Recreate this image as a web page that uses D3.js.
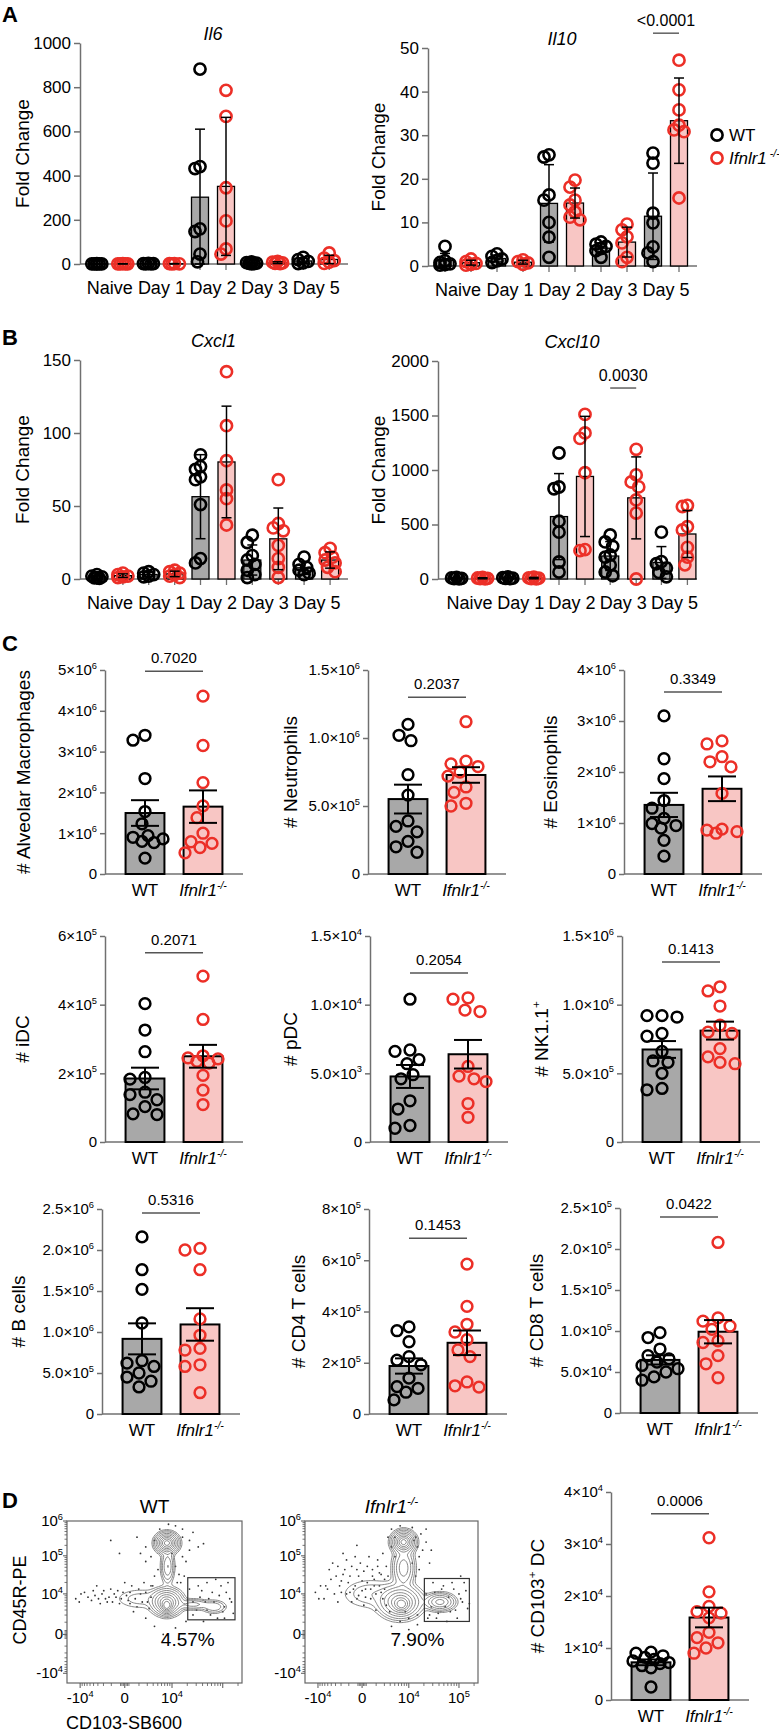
<!DOCTYPE html>
<html>
<head>
<meta charset="utf-8">
<script src="https://cdn.jsdelivr.net/npm/d3@7"></script>
<style>
  body { margin: 0; background: #fff; }
  svg { display: block; font-family: "Liberation Sans", Arial, Helvetica, sans-serif; }
</style>
</head>
<body>
<svg id="fig" width="779" height="1732"></svg>
<script>
// ---- data ----
const days = ["Naive", "Day 1", "Day 2", "Day 3", "Day 5"];
const groups = ["WT", "KO"];

// fold change per animal, one array per day (A, B)
const il6WT = [[2, 1, 0.5, 0.5, 0.3, 0.2], [3, 2, 1.5, 1, 0.5], [882, 441, 432, 159, 147, 45, 10], [10, 6, 4, 3, 2, 1], [30, 20, 12, 5, 2]];
const il6KO = [[1.5, 1, 0.8, 0.5, 0.3], [2, 1.5, 1, 0.5], [786, 668, 345, 195, 68, 45], [12, 8, 5, 3, 2], [50, 27, 15, 8, 3]];
const il10WT = [[4.5, 1.2, 0.8, 0.5, 0.3, 0.2], [2.8, 2.2, 1.6, 1.2, 0.8], [25.5, 25, 16.3, 15.1, 10, 6.6, 2], [5.5, 5, 4.5, 4, 3.5, 2], [25.9, 23.6, 12.1, 9.9, 4.4, 3, 1]];
const il10KO = [[1.6, 1.0, 0.6, 0.4, 0.2], [1.4, 1.0, 0.7, 0.4], [19.7, 18.1, 15.1, 14, 12.4, 11.2, 10.6], [9.6, 8.3, 6.7, 5.3, 2, 1], [47.2, 40.4, 35.8, 32.3, 31.2, 30.8, 15.6]];
const cxcl1WT = [[3, 2, 1.5, 1, 0.8, 0.5], [5, 4, 3, 2, 1.5], [85, 77, 75, 70, 68, 51, 14, 11], [30, 25, 16, 13, 10, 6, 3, 1], [15, 10, 8, 6, 4, 3]];
const cxcl1KO = [[4, 3, 2, 1.5, 1], [6, 5, 4, 3, 2, 1], [142, 105, 81, 61, 55, 37], [68, 38, 35, 33, 23, 14, 8, 1], [21, 18, 15, 13, 11, 8, 5]];
const cxcl10WT = [[15, 10, 6, 4, 2], [20, 12, 8, 5, 3], [1156, 844, 828, 530, 430, 156, 64], [404, 340, 300, 220, 200, 128, 64, 30], [430, 160, 140, 100, 60, 20]];
const cxcl10KO = [[14, 9, 6, 3, 2], [18, 10, 7, 4, 2], [1510, 1340, 1290, 975, 270, 260], [1190, 955, 890, 845, 725, 605, 0], [675, 665, 480, 450, 290, 200, 130]];

// cell counts per mouse (C, D)
const alvMacWT = [3.4e6, 3.28e6, 2.34e6, 1.53e6, 1.23e6, 0.94e6, 0.9e6, 0.86e6, 0.8e6, 0.77e6, 0.39e6];
const alvMacKO = [4.36e6, 3.15e6, 2.24e6, 1.67e6, 1.38e6, 1.0e6, 0.79e6, 0.75e6, 0.65e6, 0.52e6];
const neutWT = [1.1e6, 1.02e6, 0.98e6, 0.73e6, 0.58e6, 0.39e6, 0.35e6, 0.31e6, 0.24e6, 0.2e6, 0.16e6];
const neutKO = [1.12e6, 0.83e6, 0.81e6, 0.79e6, 0.75e6, 0.72e6, 0.64e6, 0.6e6, 0.52e6, 0.5e6];
const eosWT = [3.1e6, 2.26e6, 1.87e6, 1.44e6, 1.29e6, 1.09e6, 0.99e6, 0.95e6, 0.9e6, 0.66e6, 0.35e6];
const eosKO = [2.61e6, 2.55e6, 2.3e6, 2.2e6, 2.1e6, 1.58e6, 0.88e6, 0.86e6, 0.83e6, 0.8e6];
const idcWT = [4.03e5, 3.26e5, 2.63e5, 1.88e5, 1.83e5, 1.45e5, 1.38e5, 1.23e5, 1.03e5, 0.82e5, 0.8e5];
const idcKO = [4.83e5, 3.57e5, 2.51e5, 2.45e5, 2.42e5, 2.35e5, 2.3e5, 1.94e5, 1.51e5, 1.09e5];
const pdcWT = [10.4e3, 6.7e3, 6.6e3, 6.0e3, 5.7e3, 4.9e3, 4.6e3, 3.0e3, 2.4e3, 1.2e3, 1.0e3];
const pdcKO = [10.5e3, 10.4e3, 9.6e3, 9.5e3, 5.5e3, 4.6e3, 4.8e3, 4.4e3, 2.8e3, 1.8e3];
const nkWT = [9.2e5, 9.2e5, 9.1e5, 7.9e5, 7.7e5, 6.6e5, 5.9e5, 5.8e5, 5.0e5, 3.9e5, 3.8e5];
const nkKO = [11.3e5, 11.0e5, 9.9e5, 8.5e5, 8.0e5, 7.9e5, 6.8e5, 6.2e5, 5.8e5, 5.7e5];
const bWT = [2.16e6, 1.76e6, 1.52e6, 1.11e6, 0.65e6, 0.62e6, 0.58e6, 0.5e6, 0.45e6, 0.4e6, 0.33e6];
const bKO = [2.02e6, 2.0e6, 1.76e6, 1.16e6, 0.96e6, 0.8e6, 0.78e6, 0.6e6, 0.58e6, 0.26e6];
const cd4WT = [3.4e5, 3.25e5, 2.82e5, 2.24e5, 2.1e5, 1.92e5, 1.4e5, 1.07e5, 1.0e5, 0.85e5, 0.55e5];
const cd4KO = [5.85e5, 4.2e5, 3.5e5, 3.2e5, 2.9e5, 2.5e5, 2.24e5, 1.25e5, 1.1e5, 1.05e5];
const cd8WT = [9.8e4, 9.2e4, 7.8e4, 7.0e4, 6.6e4, 6.2e4, 5.8e4, 5.4e4, 5.0e4, 4.4e4, 4.0e4];
const cd8KO = [20.8e4, 11.6e4, 11.2e4, 10.6e4, 10.2e4, 8.8e4, 8.6e4, 7.0e4, 6.0e4, 4.3e4];
const cd103WT = [0.92e4, 0.9e4, 0.85e4, 0.82e4, 0.78e4, 0.75e4, 0.72e4, 0.7e4, 0.66e4, 0.62e4, 0.25e4];
const cd103KO = [3.12e4, 2.08e4, 1.8e4, 1.7e4, 1.67e4, 1.58e4, 1.3e4, 1.2e4, 1.1e4, 1.0e4, 0.9e4];

// flow plots: contour blobs [x, y, sdX, sdY, weight] and outlier events, 0-1 display scale
const wtBlobs = [[0.571, 0.864, 0.029, 0.028, 1.0], [0.575, 0.72, 0.018, 0.05, 0.2], [0.57, 0.5, 0.04, 0.036, 0.7],
  [0.57, 0.47, 0.018, 0.022, 0.55], [0.72, 0.485, 0.05, 0.016, 0.14], [0.84, 0.47, 0.035, 0.02, 0.1], [0.42, 0.52, 0.08, 0.035, 0.04]];
const koBlobs = [[0.57, 0.87, 0.03, 0.03, 1.0], [0.57, 0.71, 0.03, 0.06, 0.28], [0.55, 0.5, 0.055, 0.045, 0.7],
  [0.56, 0.48, 0.025, 0.025, 0.45], [0.78, 0.5, 0.04, 0.025, 0.4], [0.38, 0.55, 0.09, 0.05, 0.05]];
const wtDots = [[0.08, 0.55], [0.12, 0.53], [0.15, 0.57], [0.18, 0.52], [0.2, 0.55], [0.23, 0.5], [0.25, 0.58], [0.28, 0.53],
  [0.3, 0.49], [0.32, 0.56], [0.35, 0.51], [0.37, 0.6], [0.4, 0.47], [0.42, 0.55], [0.44, 0.62], [0.46, 0.5], [0.38, 0.44],
  [0.33, 0.62], [0.5, 0.88], [0.66, 0.9], [0.7, 0.82], [0.48, 0.78], [0.68, 0.75], [0.53, 0.95], [0.62, 0.97], [0.72, 0.93],
  [0.45, 0.84], [0.4, 0.9], [0.3, 0.8], [0.25, 0.88], [0.78, 0.86], [0.72, 0.42], [0.75, 0.6], [0.8, 0.45], [0.83, 0.56],
  [0.86, 0.4], [0.88, 0.6], [0.9, 0.47], [0.93, 0.52], [0.95, 0.43], [0.78, 0.38], [0.92, 0.62], [0.85, 0.64], [0.7, 0.58],
  [0.5, 0.35], [0.62, 0.34], [0.55, 0.3], [0.68, 0.38], [0.45, 0.4], [0.65, 0.62], [0.48, 0.6], [0.81, 0.52],
  [0.05, 0.52], [0.07, 0.5], [0.1, 0.56], [0.14, 0.51], [0.16, 0.54], [0.19, 0.49], [0.21, 0.57], [0.22, 0.52], [0.26, 0.5],
  [0.27, 0.55], [0.29, 0.57], [0.31, 0.52], [0.34, 0.54], [0.36, 0.49], [0.36, 0.56], [0.39, 0.52], [0.41, 0.58], [0.43, 0.5],
  [0.45, 0.56], [0.47, 0.46], [0.48, 0.53], [0.49, 0.6], [0.24, 0.53], [0.17, 0.6], [0.62, 0.72], [0.64, 0.67], [0.66, 0.78],
  [0.63, 0.62], [0.67, 0.66], [0.6, 0.8], [0.52, 0.7], [0.5, 0.66], [0.72, 0.5], [0.74, 0.45], [0.76, 0.53], [0.79, 0.5],
  [0.82, 0.42], [0.84, 0.5], [0.87, 0.54], [0.89, 0.44], [0.91, 0.56], [0.94, 0.5], [0.77, 0.57], [0.8, 0.62], [0.9, 0.4],
  [0.58, 0.98], [0.66, 0.95], [0.7, 0.88], [0.75, 0.84], [0.45, 0.75], [0.42, 0.8]];
const koDots = [[0.06, 0.56], [0.09, 0.6], [0.11, 0.52], [0.13, 0.58], [0.15, 0.64], [0.17, 0.55], [0.19, 0.5], [0.2, 0.6],
  [0.22, 0.67], [0.24, 0.55], [0.25, 0.62], [0.27, 0.5], [0.28, 0.58], [0.3, 0.7], [0.31, 0.54], [0.33, 0.63], [0.34, 0.48],
  [0.35, 0.58], [0.36, 0.72], [0.38, 0.52], [0.39, 0.66], [0.4, 0.6], [0.41, 0.45], [0.42, 0.76], [0.43, 0.68], [0.44, 0.56],
  [0.45, 0.8], [0.46, 0.64], [0.47, 0.72], [0.48, 0.9], [0.5, 0.95], [0.52, 0.78], [0.64, 0.9], [0.68, 0.82], [0.7, 0.95],
  [0.72, 0.74], [0.66, 0.7], [0.3, 0.85], [0.22, 0.8], [0.74, 0.62], [0.72, 0.42], [0.76, 0.4], [0.8, 0.6], [0.84, 0.44],
  [0.86, 0.58], [0.88, 0.4], [0.9, 0.52], [0.92, 0.62], [0.94, 0.46], [0.82, 0.38], [0.9, 0.66], [0.5, 0.35], [0.6, 0.33],
  [0.55, 0.38], [0.65, 0.36],
  [0.14, 0.7], [0.16, 0.74], [0.18, 0.66], [0.19, 0.72], [0.21, 0.63], [0.23, 0.7], [0.24, 0.76], [0.26, 0.66], [0.27, 0.72],
  [0.29, 0.6], [0.29, 0.78], [0.31, 0.66], [0.32, 0.74], [0.33, 0.57], [0.34, 0.69], [0.36, 0.62], [0.37, 0.78], [0.38, 0.58],
  [0.39, 0.7], [0.4, 0.64], [0.41, 0.55], [0.42, 0.72], [0.43, 0.6], [0.44, 0.67], [0.45, 0.52], [0.46, 0.58], [0.47, 0.48],
  [0.48, 0.66], [0.49, 0.44], [0.26, 0.56], [0.21, 0.56], [0.12, 0.6], [0.08, 0.52], [0.35, 0.53], [0.3, 0.52],
  [0.63, 0.88], [0.65, 0.84], [0.67, 0.92], [0.7, 0.87], [0.73, 0.82], [0.66, 0.78], [0.62, 0.96], [0.55, 0.97], [0.52, 0.9],
  [0.5, 0.84], [0.62, 0.74], [0.64, 0.66], [0.7, 0.55], [0.73, 0.47], [0.75, 0.56], [0.77, 0.43], [0.79, 0.58], [0.81, 0.47],
  [0.83, 0.53], [0.85, 0.62], [0.87, 0.45], [0.89, 0.55], [0.91, 0.5], [0.93, 0.57], [0.95, 0.49], [0.71, 0.4], [0.65, 0.42],
  [0.6, 0.4], [0.58, 0.44]];
const wtGate = [0.69, 0.96, 0.39, 0.65];
const koGate = [0.69, 0.95, 0.38, 0.645];
const flowTicksX = [0.075, 0.33, 0.6, 0.89];
const flowTickLabelsX = ["-10^4", "0", "10^4", "10^5"];
const flowTicksY = [0.06, 0.3, 0.55, 0.785, 1.0];
const flowTickLabelsY = ["-10^4", "0", "10^4", "10^5", "10^6"];
const flowLevels = [0.012, 0.025, 0.05, 0.1, 0.18, 0.3, 0.45, 0.62, 0.8];

// ---- drawing ----
const RED = "#ec2f27", GREY = "#a8a8a8", PINK = "#f8c6c4", AXIS = "#707070";
const svg = d3.select("#fig");
svg.append("rect").attr("width", 779).attr("height", 1732).attr("fill", "#fff");

// text with superscripts: parts = [{t, sup, it}]
function rich(text, parts, size) {
  let shift = 0;
  parts.forEach(p => {
    const ts = text.append("tspan").text(p.t);
    const target = p.sup ? -size * 0.42 : 0;
    if (target !== shift) { ts.attr("dy", target - shift); shift = target; }
    if (p.sup) ts.attr("font-size", size * 0.62);
    if (p.it) ts.attr("font-style", "italic");
  });
}
const parseSup = s => s.split("^").map((t, i) => ({ t, sup: i > 0 }));
const koParts = [{ t: "Ifnlr1", it: true }, { t: "-/-", sup: true, it: true }];

function sciLabel(v, dec) {
  if (v === 0) return "0";
  const e = Math.floor(Math.log10(v) + 1e-9);
  return (v / Math.pow(10, e)).toFixed(dec) + "×10^" + e;
}

function styleAxis(sel) {
  sel.attr("font-family", null).attr("font-size", null);
  sel.select(".domain").attr("stroke", AXIS).attr("stroke-width", 1.5);
  sel.selectAll(".tick line").attr("stroke", AXIS).attr("stroke-width", 1.5);
  sel.selectAll(".tick text").attr("fill", "#000");
}

// spread points sideways so circles do not pile up
function dodge(ys, minDist, step, maxOff) {
  const placed = [];
  const out = new Array(ys.length);
  d3.range(ys.length).sort((a, b) => ys[a] - ys[b]).forEach(i => {
    let best = 0, bestCost = Infinity;
    for (let k = 0; Math.ceil(k / 2) * step <= maxOff; k++) {
      const off = k === 0 ? 0 : (k % 2 ? -1 : 1) * Math.ceil(k / 2) * step;
      let cost = 0;
      placed.forEach(p => {
        const d = Math.hypot(p[0] - off, p[1] - ys[i]);
        if (d < minDist) cost = Math.max(cost, minDist - d);
      });
      if (cost === 0) { best = off; bestCost = 0; break; }
      if (cost < bestCost) { bestCost = cost; best = off; }
    }
    placed.push([best, ys[i]]);
    out[i] = best;
  });
  return out;
}

function panelLetter(t, y) {
  svg.append("text").attr("x", 2).attr("y", y).attr("font-size", 22).attr("font-weight", "bold").text(t);
}

function timeCourse(cfg) {
  const g = svg.append("g");
  const x = d3.scaleBand().domain(days).range(cfg.band);
  const xo = d3.scalePoint().domain(groups).range([-13, 13]);
  const y = d3.scaleLinear().domain([0, cfg.max]).range([cfg.y0, cfg.yTop]);
  const cx = (d, gt) => x(d) + x.bandwidth() / 2 + xo(gt);

  g.append("g").attr("transform", `translate(${cfg.axisX},0)`)
    .call(d3.axisLeft(y).tickValues(cfg.ticks).tickSize(6).tickSizeOuter(0).tickPadding(3).tickFormat(d3.format("d")))
    .call(styleAxis)
    .selectAll(".tick text").attr("font-size", 17);
  g.append("line").attr("x1", cfg.axisX).attr("x2", cfg.xEnd).attr("y1", cfg.y0).attr("y2", cfg.y0)
    .attr("stroke", AXIS).attr("stroke-width", 1.5);
  days.forEach(d => groups.forEach(gt => {
    g.append("line").attr("x1", cx(d, gt)).attr("x2", cx(d, gt)).attr("y1", cfg.y0).attr("y2", cfg.y0 + 6)
      .attr("stroke", AXIS).attr("stroke-width", 1.3);
  }));
  g.selectAll("text.day").data(days).join("text").attr("class", "day")
    .attr("x", d => x(d) + x.bandwidth() / 2).attr("y", cfg.y0 + 30)
    .attr("text-anchor", "middle").attr("font-size", 18).text(d => d);

  g.append("text").attr("transform", `translate(${cfg.labelX},${(cfg.y0 + cfg.yTop) / 2}) rotate(-90)`)
    .attr("text-anchor", "middle").attr("dy", "0.35em").attr("font-size", 19).text("Fold Change");
  g.append("text").attr("x", (cfg.band[0] + cfg.band[1]) / 2).attr("y", cfg.titleY)
    .attr("text-anchor", "middle").attr("font-size", 18).attr("font-style", "italic").text(cfg.title);

  const sets = [["WT", cfg.wt], ["KO", cfg.ko]];
  sets.forEach(([gt, data]) => data.forEach((vals, i) => {
    const m = d3.mean(vals);
    const bx = cx(days[i], gt);
    g.append("rect").attr("x", bx - 8.5).attr("width", 17).attr("y", y(m)).attr("height", cfg.y0 - y(m))
      .attr("fill", gt === "WT" ? GREY : PINK).attr("stroke", "#000").attr("stroke-width", 1.3);
  }));
  sets.forEach(([gt, data]) => data.forEach((vals, i) => {
    const bx = cx(days[i], gt);
    const ys = vals.map(v => y(v));
    const offs = dodge(ys, 8, 2.5, 6);
    g.selectAll(null).data(vals).join("circle")
      .attr("cx", (v, k) => bx + offs[k]).attr("cy", v => y(v)).attr("r", 5.6)
      .attr("fill", "none").attr("stroke", gt === "WT" ? "#000" : RED).attr("stroke-width", 2.6);
  }));
  sets.forEach(([gt, data]) => data.forEach((vals, i) => {
    const m = d3.mean(vals), sd = d3.deviation(vals);
    const bx = cx(days[i], gt);
    const lo = y(Math.max(0, m - sd)), hi = y(m + sd);
    g.append("line").attr("x1", bx).attr("x2", bx).attr("y1", lo).attr("y2", hi).attr("stroke", "#000").attr("stroke-width", 1.5);
    [lo, hi].forEach(yy => g.append("line").attr("x1", bx - 5).attr("x2", bx + 5).attr("y1", yy).attr("y2", yy)
      .attr("stroke", "#000").attr("stroke-width", 1.5));
  }));
  if (cfg.p) {
    const py = y(cfg.p.at);
    const x1 = cx(cfg.p.day, "WT"), x2 = cx(cfg.p.day, "KO");
    g.append("line").attr("x1", x1).attr("x2", x2).attr("y1", py).attr("y2", py).attr("stroke", "#555").attr("stroke-width", 1.4);
    g.append("text").attr("x", (x1 + x2) / 2).attr("y", py - 7).attr("text-anchor", "middle").attr("font-size", 16).text(cfg.p.text);
  }
}

function barPair(cfg) {
  const g = svg.append("g");
  const max = d3.max(cfg.ticks);
  const y = d3.scaleLinear().domain([0, max]).range([cfg.y0, cfg.yTop]);
  const x = d3.scaleBand().domain(groups).range([cfg.axisX + 11, cfg.axisX + 127]).paddingInner(0.33).paddingOuter(0.165);

  const ax = g.append("g").attr("transform", `translate(${cfg.axisX},0)`)
    .call(d3.axisLeft(y).tickValues(cfg.ticks).tickSize(5).tickSizeOuter(0).tickPadding(3))
    .call(styleAxis);
  ax.selectAll(".tick text").attr("font-size", 15).each(function (d) {
    const t = d3.select(this).text(null);
    rich(t, parseSup(sciLabel(d, cfg.dec)), 15);
  });
  g.append("line").attr("x1", cfg.axisX).attr("x2", cfg.axisX + 138).attr("y1", cfg.y0).attr("y2", cfg.y0)
    .attr("stroke", AXIS).attr("stroke-width", 1.5);

  const lab = g.append("text").attr("transform", `translate(${cfg.labelX},${(cfg.y0 + cfg.yTop) / 2}) rotate(-90)`)
    .attr("text-anchor", "middle").attr("dy", "0.35em").attr("font-size", 19);
  rich(lab, cfg.label, 19);

  const xl = g.append("g").attr("font-size", 17);
  xl.append("text").attr("x", x("WT") + x.bandwidth() / 2).attr("y", cfg.y0 + 22).attr("text-anchor", "middle").text("WT");
  rich(xl.append("text").attr("x", x("KO") + x.bandwidth() / 2).attr("y", cfg.y0 + 22).attr("text-anchor", "middle"), koParts, 17);

  const sets = [["WT", cfg.wt], ["KO", cfg.ko]];
  sets.forEach(([gt, vals]) => {
    const m = d3.mean(vals);
    g.append("rect").attr("x", x(gt)).attr("width", x.bandwidth()).attr("y", y(m)).attr("height", cfg.y0 - y(m))
      .attr("fill", gt === "WT" ? GREY : PINK).attr("stroke", "#000").attr("stroke-width", 2);
  });
  sets.forEach(([gt, vals]) => {
    const bx = x(gt) + x.bandwidth() / 2;
    const ys = vals.map(v => y(v));
    const offs = dodge(ys, 12.5, 3, 19);
    g.selectAll(null).data(vals).join("circle")
      .attr("cx", (v, k) => bx + offs[k]).attr("cy", v => y(v)).attr("r", 5.4)
      .attr("fill", "none").attr("stroke", gt === "WT" ? "#000" : RED).attr("stroke-width", 2.5);
  });
  sets.forEach(([gt, vals]) => {
    const m = d3.mean(vals), se = d3.deviation(vals) / Math.sqrt(vals.length);
    const bx = x(gt) + x.bandwidth() / 2;
    const lo = y(m - se), hi = y(m + se);
    g.append("line").attr("x1", bx).attr("x2", bx).attr("y1", lo).attr("y2", hi).attr("stroke", "#000").attr("stroke-width", 2);
    [lo, hi].forEach(yy => g.append("line").attr("x1", bx - 14).attr("x2", bx + 14).attr("y1", yy).attr("y2", yy)
      .attr("stroke", "#000").attr("stroke-width", 2));
  });
  const py = y(cfg.pAt);
  const x1 = x("WT") + x.bandwidth() / 2, x2 = x("KO") + x.bandwidth() / 2;
  g.append("line").attr("x1", x1).attr("x2", x2).attr("y1", py).attr("y2", py).attr("stroke", "#555").attr("stroke-width", 1.5);
  g.append("text").attr("x", (x1 + x2) / 2).attr("y", py - 8).attr("text-anchor", "middle").attr("font-size", 15).text(cfg.p);
}

function minorTicks(major) {
  // biexponential-style minor ticks between the major decade marks
  const [a, b, c, d] = major;
  const out = [];
  for (let k = 1; k <= 8; k++) {
    out.push(b + (c - b) * Math.log10(1 + k));
    out.push(b - (b - a) * Math.log10(1 + k));
  }
  [0.008, 0.016, 0.024].forEach(e => { out.push(b + e); out.push(b - e); });
  for (let k = 2; k <= 9; k++) out.push(c + (d - c) * Math.log10(k));
  const nxt = major.length > 4 ? major[4] : 1;
  for (let k = 2; k <= 9; k++) {
    const v = d + (major.length > 4 ? (nxt - d) : (d - c)) * Math.log10(k);
    if (v <= 1) out.push(v);
  }
  return out;
}

function flowPlot(cfg) {
  const g = svg.append("g");
  const xf = d3.scaleLinear().domain([0, 1]).range([cfg.left, cfg.right]);
  const yf = d3.scaleLinear().domain([0, 1]).range([cfg.bottom, cfg.top]);

  g.selectAll("circle.ev").data(cfg.dots).join("circle").attr("class", "ev")
    .attr("cx", d => xf(d[0])).attr("cy", d => yf(d[1])).attr("r", 0.9).attr("fill", "#333");

  const n = 110, m = 100;
  const values = new Float64Array(n * m);
  for (let j = 0; j < m; j++) for (let i = 0; i < n; i++) {
    const u = (i + 0.5) / n, v = 1 - (j + 0.5) / m;
    let s = 0;
    cfg.blobs.forEach(([bx, by, sx, sy, w]) => {
      s += w * Math.exp(-((u - bx) ** 2 / (2 * sx * sx) + (v - by) ** 2 / (2 * sy * sy)));
    });
    values[j * n + i] = s;
  }
  const peak = d3.max(values);
  const contours = d3.contours().size([n, m]).thresholds(flowLevels.map(l => l * peak))(values);
  const proj = d3.geoTransform({ point(px, py) { this.stream.point(xf(px / n), yf(1 - py / m)); } });
  g.selectAll("path.ct").data(contours).join("path").attr("class", "ct")
    .attr("d", d3.geoPath(proj)).attr("fill", "none").attr("stroke", "#6a6a6a").attr("stroke-width", 0.8);

  g.append("rect").attr("x", cfg.left).attr("y", cfg.top).attr("width", cfg.right - cfg.left).attr("height", cfg.bottom - cfg.top)
    .attr("fill", "none").attr("stroke", "#666").attr("stroke-width", 1.2);
  const gt = cfg.gate;
  g.append("rect").attr("x", xf(gt[0])).attr("y", yf(gt[3])).attr("width", xf(gt[1]) - xf(gt[0])).attr("height", yf(gt[2]) - yf(gt[3]))
    .attr("fill", "none").attr("stroke", "#333").attr("stroke-width", 1.2);
  g.append("text").attr("x", xf(cfg.pctX)).attr("y", yf(0.23)).attr("text-anchor", "middle").attr("font-size", 19).text(cfg.pct);

  // x ticks
  flowTicksX.forEach(t => g.append("line").attr("x1", xf(t)).attr("x2", xf(t)).attr("y1", cfg.bottom).attr("y2", cfg.bottom + 5).attr("stroke", "#555"));
  minorTicks(flowTicksX).forEach(t => g.append("line").attr("x1", xf(t)).attr("x2", xf(t)).attr("y1", cfg.bottom).attr("y2", cfg.bottom + 3).attr("stroke", "#555").attr("stroke-width", 0.8));
  flowTicksX.slice(0, cfg.nXLabels).forEach((t, i) => {
    rich(g.append("text").attr("x", xf(t)).attr("y", cfg.bottom + 20).attr("text-anchor", "middle").attr("font-size", 15), parseSup(flowTickLabelsX[i]), 15);
  });
  // y ticks
  flowTicksY.forEach(t => g.append("line").attr("x1", cfg.left).attr("x2", cfg.left - 4).attr("y1", yf(t)).attr("y2", yf(t)).attr("stroke", "#555"));
  minorTicks(flowTicksY).forEach(t => g.append("line").attr("x1", cfg.left).attr("x2", cfg.left - 2.5).attr("y1", yf(t)).attr("y2", yf(t)).attr("stroke", "#555").attr("stroke-width", 0.8));
  flowTicksY.forEach((t, i) => {
    rich(g.append("text").attr("x", cfg.left - 4).attr("y", yf(t) + 5).attr("text-anchor", "end").attr("font-size", 15), parseSup(flowTickLabelsY[i]), 15);
  });
  rich(g.append("text").attr("x", (cfg.left + cfg.right) / 2).attr("y", cfg.top - 8).attr("text-anchor", "middle").attr("font-size", 19), cfg.title, 19);
}

// ---- A ----
panelLetter("A", 22);
timeCourse({ title: "Il6", wt: il6WT, ko: il6KO, max: 1000, ticks: d3.range(0, 1001, 200),
  axisX: 80, xEnd: 348, band: [84, 342], y0: 264, yTop: 43, labelX: 22, titleY: 40 });
timeCourse({ title: "Il10", wt: il10WT, ko: il10KO, max: 50, ticks: d3.range(0, 51, 10),
  axisX: 428, xEnd: 697, band: [432, 692], y0: 266, yTop: 48, labelX: 378, titleY: 45,
  p: { day: "Day 5", at: 53.4, text: "<0.0001" } });
// legend
const leg = svg.append("g").attr("font-size", 17);
[["WT", "#000", 135], ["KO", RED, 158]].forEach(([gt, col, yy]) => {
  leg.append("circle").attr("cx", 717).attr("cy", yy).attr("r", 5.6).attr("fill", "none").attr("stroke", col).attr("stroke-width", 2.6);
  const t = leg.append("text").attr("x", 729).attr("y", yy + 6);
  if (gt === "WT") t.text("WT"); else rich(t, [{ t: "Ifnlr1", it: true }, { t: " -/-", sup: true, it: true }], 17);
});

// ---- B ----
panelLetter("B", 345);
timeCourse({ title: "Cxcl1", wt: cxcl1WT, ko: cxcl1KO, max: 150, ticks: [0, 50, 100, 150],
  axisX: 80, xEnd: 348, band: [84, 343], y0: 579, yTop: 360, labelX: 22, titleY: 347 });
timeCourse({ title: "Cxcl10", wt: cxcl10WT, ko: cxcl10KO, max: 2000, ticks: d3.range(0, 2001, 500),
  axisX: 438, xEnd: 697, band: [444, 700], y0: 579, yTop: 361, labelX: 378, titleY: 348,
  p: { day: "Day 3", at: 1752, text: "0.0030" } });

// ---- C ----
panelLetter("C", 651);
const cells = [
  { label: [{ t: "# Alveolar Macrophages" }], wt: alvMacWT, ko: alvMacKO, ticks: [0, 1e6, 2e6, 3e6, 4e6, 5e6], dec: 0, p: "0.7020", pAt: 4.97e6, axisX: 105, labelX: 23, y0: 874, yTop: 670 },
  { label: [{ t: "# Neutrophils" }], wt: neutWT, ko: neutKO, ticks: [0, 5e5, 1e6, 1.5e6], dec: 1, p: "0.2037", pAt: 1.3e6, axisX: 368, labelX: 290, y0: 874, yTop: 670 },
  { label: [{ t: "# Eosinophils" }], wt: eosWT, ko: eosKO, ticks: [0, 1e6, 2e6, 3e6, 4e6], dec: 0, p: "0.3349", pAt: 3.57e6, axisX: 624, labelX: 550, y0: 874, yTop: 670 },
  { label: [{ t: "# iDC" }], wt: idcWT, ko: idcKO, ticks: [0, 2e5, 4e5, 6e5], dec: 0, p: "0.2071", pAt: 5.51e5, axisX: 105, labelX: 22, y0: 1142, yTop: 936 },
  { label: [{ t: "# pDC" }], wt: pdcWT, ko: pdcKO, ticks: [0, 5e3, 1e4, 1.5e4], dec: 1, p: "0.2054", pAt: 1.23e4, axisX: 370, labelX: 290, y0: 1142, yTop: 936 },
  { label: [{ t: "# NK1.1" }, { t: "+", sup: true }], wt: nkWT, ko: nkKO, ticks: [0, 5e5, 1e6, 1.5e6], dec: 1, p: "0.1413", pAt: 1.31e6, axisX: 622, labelX: 541, y0: 1142, yTop: 936 },
  { label: [{ t: "# B cells" }], wt: bWT, ko: bKO, ticks: [0, 5e5, 1e6, 1.5e6, 2e6, 2.5e6], dec: 1, p: "0.5316", pAt: 2.45e6, axisX: 102, labelX: 18, y0: 1414, yTop: 1209 },
  { label: [{ t: "# CD4 T cells" }], wt: cd4WT, ko: cd4KO, ticks: [0, 2e5, 4e5, 6e5, 8e5], dec: 0, p: "0.1453", pAt: 6.86e5, axisX: 369, labelX: 298, y0: 1414, yTop: 1209 },
  { label: [{ t: "# CD8 T cells" }], wt: cd8WT, ko: cd8KO, ticks: [0, 5e4, 1e5, 1.5e5, 2e5, 2.5e5], dec: 1, p: "0.0422", pAt: 2.39e5, axisX: 620, labelX: 536, y0: 1413, yTop: 1208 },
];
cells.forEach(barPair);

// ---- D ----
panelLetter("D", 1508);
flowPlot({ title: [{ t: "WT" }], blobs: wtBlobs, dots: wtDots, gate: wtGate, pct: "4.57%", pctX: 0.69,
  left: 67, right: 242, top: 1521, bottom: 1683, nXLabels: 3 });
flowPlot({ title: koParts, blobs: koBlobs, dots: koDots, gate: koGate, pct: "7.90%", pctX: 0.65,
  left: 305, right: 478, top: 1521, bottom: 1683, nXLabels: 4 });
svg.append("text").attr("transform", "translate(20,1600) rotate(-90)").attr("text-anchor", "middle").attr("dy", "0.35em")
  .attr("font-size", 18).text("CD45R-PE");
svg.append("text").attr("x", 124).attr("y", 1729).attr("text-anchor", "middle").attr("font-size", 18).text("CD103-SB600");
barPair({ label: [{ t: "# CD103" }, { t: "+", sup: true }, { t: " DC" }], wt: cd103WT, ko: cd103KO, ticks: [0, 1e4, 2e4, 3e4, 4e4], dec: 0,
  p: "0.0006", pAt: 3.58e4, axisX: 611, labelX: 537, y0: 1700, yTop: 1492 });
</script>
</body>
</html>
